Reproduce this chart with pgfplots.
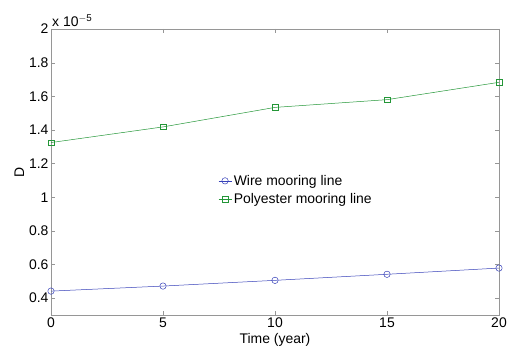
\documentclass[border=0pt]{standalone}
\usepackage{pgfplots}
\pgfplotsset{compat=1.18}
\usepackage{fontspec}
\setmainfont{Liberation Sans}
\definecolor{wireblue}{RGB}{55,65,185}
\definecolor{polygreen}{RGB}{35,150,55}
\definecolor{axgray}{RGB}{150,150,150}
\begin{document}
\begin{tikzpicture}
\path[use as bounding box] (-51bp,-34bp) rectangle (460bp,315bp);
\begin{axis}[
  scale only axis,
  clip=false,
  width=448bp, height=286bp,
  xmin=0, xmax=20, ymin=0.3, ymax=2,
  xtick={0,5,10,15,20},
  ytick={0.4,0.6,0.8,1,1.2,1.4,1.6,1.8,2},
  yticklabels={0.4,0.6,0.8,1,1.2,1.4,1.6,1.8,2},
  /pgf/number format/assume math mode=true,
  tick align=inside,
  tick pos=both,
  major tick length=4bp,
  axis line style={axgray},
  tick style={axgray},
  ticklabel style={font=\fontsize{14}{16}\selectfont, black},
  xticklabel style={yshift=1bp},
  yticklabel style={xshift=1bp},
  label style={font=\fontsize{14}{16}\selectfont},
  xlabel={Time (year)},
  ylabel={D},
  xlabel style={yshift=1bp},
  ylabel style={yshift=-2bp},
  legend style={draw=none, fill=none, at={(0.373,0.497)}, anchor=north west,
    font=\fontsize{14}{16}\selectfont, row sep=3bp, inner sep=0pt},
  legend cell align=left,
  legend image code/.code={\draw[#1] (0bp,0bp) -- (13bp,0bp); \draw[#1,only marks] plot coordinates {(6.5bp,0bp)};},
]
\addplot[wireblue, mark=o, mark size=3.2bp, line width=0.5pt] coordinates {
(0,0.442) (5,0.472) (10,0.506) (15,0.542) (20,0.579)};
\addlegendentry{Wire mooring line}
\addplot[polygreen, mark=square, mark size=2.8bp, line width=0.5pt] coordinates {
(0,1.325) (5,1.418) (10,1.534) (15,1.580) (20,1.683)};
\addlegendentry{Polyester mooring line}
\node[anchor=south west, inner sep=0pt, xshift=1bp, yshift=2bp, font=\fontsize{14}{16}\selectfont] at (rel axis cs:0,1) {x 10$^{\mathrm{-5}}$};
\end{axis}
\end{tikzpicture}
\end{document}
